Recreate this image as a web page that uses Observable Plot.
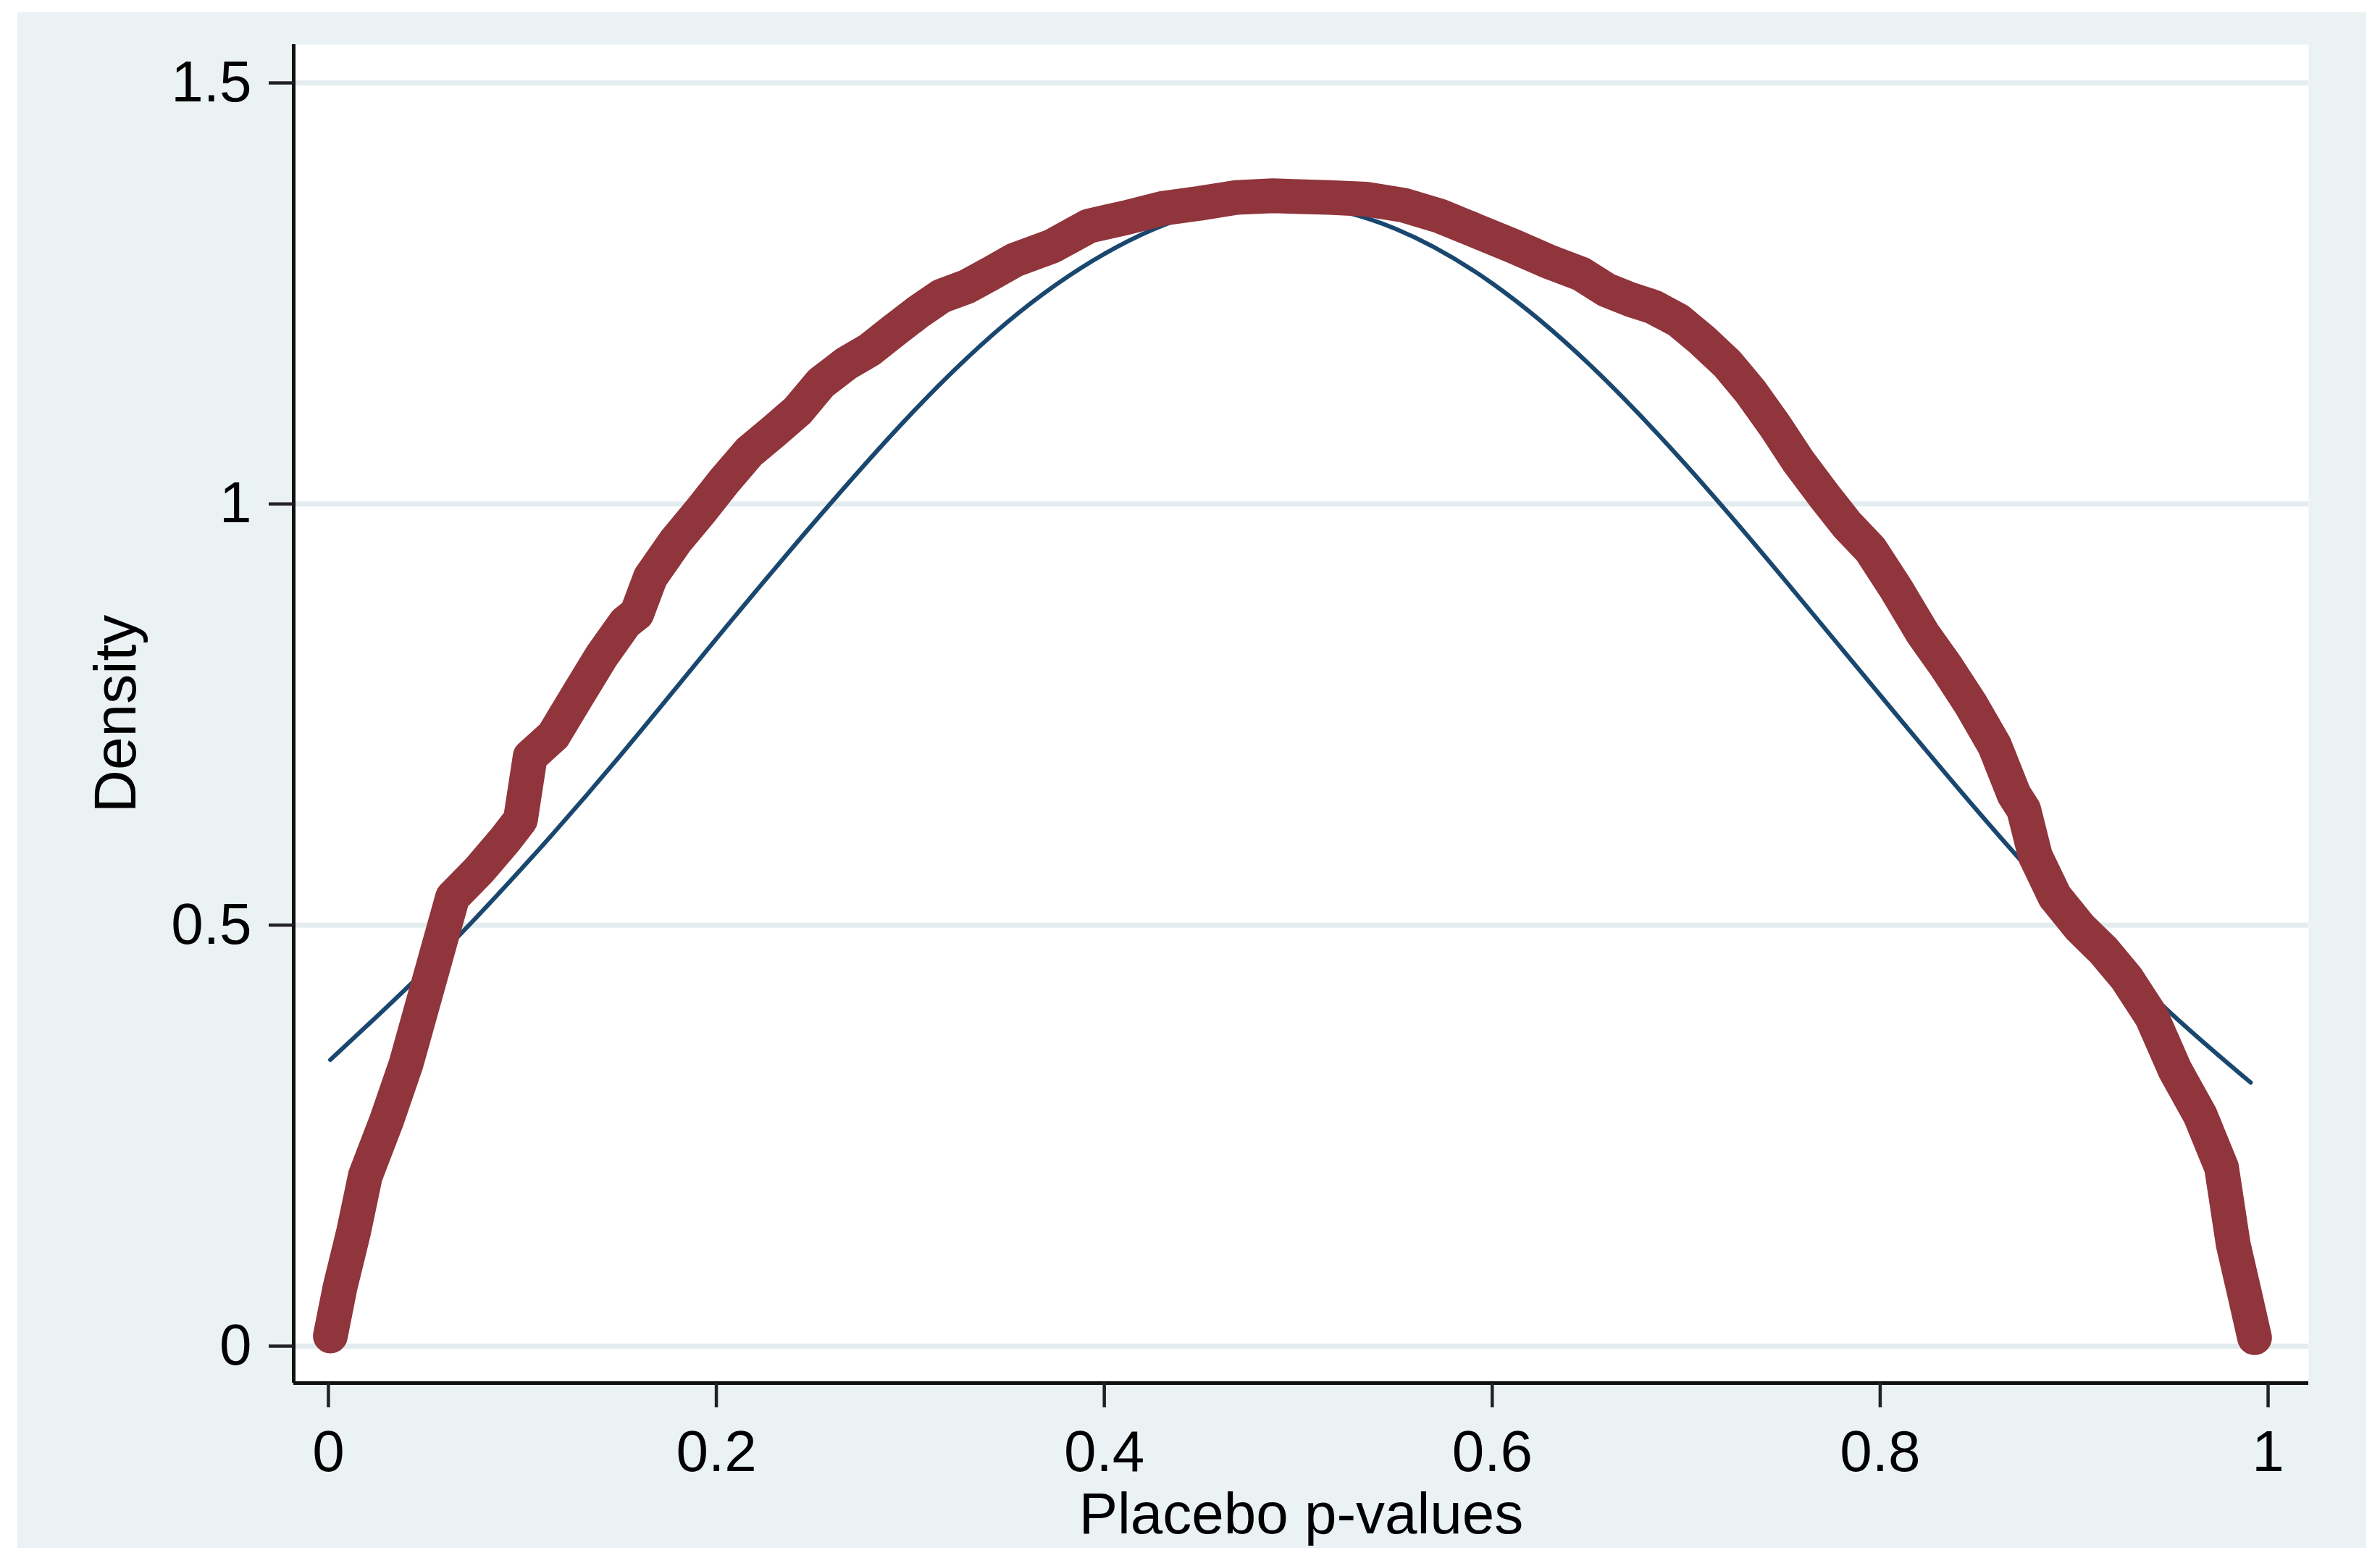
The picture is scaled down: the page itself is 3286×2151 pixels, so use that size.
<!DOCTYPE html>
<html>
<head>
<meta charset="utf-8">
<script src="https://cdn.jsdelivr.net/npm/d3@7"></script>
<script src="https://cdn.jsdelivr.net/npm/@observablehq/plot@0.6"></script>
<style>
  html, body { margin: 0; padding: 0; background: #ffffff; }
  #chart { position: absolute; left: 24px; top: 17px; }
</style>
</head>
<body>
<div id="chart"></div>
<script>
// Placebo p-value density (thick red)
const redX = [0.001, 0.006, 0.013, 0.019, 0.030, 0.040, 0.048, 0.056, 0.064, 0.078,
  0.091, 0.099, 0.104, 0.116, 0.128, 0.141, 0.153, 0.159, 0.166, 0.179,
  0.192, 0.204, 0.217, 0.229, 0.242, 0.254, 0.267, 0.279, 0.291, 0.304,
  0.316, 0.329, 0.341, 0.354, 0.373, 0.392, 0.411, 0.430, 0.449, 0.468,
  0.487, 0.516, 0.535, 0.554, 0.573, 0.592, 0.611, 0.630, 0.646, 0.659,
  0.671, 0.683, 0.696, 0.708, 0.721, 0.733, 0.746, 0.758, 0.771, 0.783,
  0.795, 0.808, 0.822, 0.834, 0.847, 0.859, 0.869, 0.874, 0.880, 0.890,
  0.903, 0.915, 0.927, 0.940, 0.952, 0.965, 0.976, 0.982, 0.988, 0.993];
const redY = [0.012, 0.070, 0.136, 0.202, 0.268, 0.335, 0.401, 0.467, 0.533, 0.566,
  0.601, 0.625, 0.700, 0.725, 0.771, 0.820, 0.859, 0.870, 0.913, 0.956,
  0.992, 1.027, 1.062, 1.085, 1.111, 1.144, 1.167, 1.183, 1.205, 1.228,
  1.247, 1.258, 1.273, 1.290, 1.306, 1.330, 1.340, 1.351, 1.357, 1.364,
  1.366, 1.364, 1.362, 1.355, 1.342, 1.324, 1.306, 1.287, 1.273, 1.254,
  1.243, 1.234, 1.218, 1.195, 1.167, 1.134, 1.092, 1.050, 1.010, 0.975,
  0.946, 0.900, 0.846, 0.807, 0.761, 0.713, 0.655, 0.637, 0.582, 0.534,
  0.497, 0.470, 0.437, 0.391, 0.328, 0.274, 0.212, 0.121, 0.061, 0.010];

// Smooth reference curve (thin navy)
const blueX = [0.001, 0.05, 0.10, 0.15, 0.20, 0.25, 0.30, 0.35, 0.40, 0.45,
  0.50, 0.55, 0.60, 0.65, 0.70, 0.75, 0.80, 0.85, 0.90, 0.95, 0.991];
const blueY = [0.340, 0.447, 0.568, 0.700, 0.840, 0.977, 1.106, 1.216, 1.297, 1.346,
  1.356, 1.327, 1.262, 1.166, 1.046, 0.912, 0.773, 0.636, 0.508, 0.395, 0.313];

const xTicks = [0, 0.2, 0.4, 0.6, 0.8, 1];
const xTickLabels = ["0", "0.2", "0.4", "0.6", "0.8", "1"];
const yTicks = [0, 0.5, 1, 1.5];
const yTickLabels = ["0", "0.5", "1", "1.5"];
const xTitle = "Placebo p-values";
const yTitle = "Density";

const red = redX.map((x, i) => ({x, y: redY[i]}));
const blue = blueX.map((x, i) => ({x, y: blueY[i]}));
const xDomain = [-0.0179, 1.0209];
const yDomain = [-0.0439, 1.5456];

const fontFamily = "'Liberation Sans', Arial, Helvetica, sans-serif";

const chart = Plot.plot({
  width: 3243,
  height: 2120,
  marginLeft: 381,
  marginRight: 80,
  marginTop: 44,
  marginBottom: 228,
  style: {background: "#EAF2F3", fontFamily, fontSize: "80px", color: "#000", overflow: "visible"},
  x: {domain: xDomain},
  y: {domain: yDomain},
  marks: [
    Plot.frame({fill: "white", stroke: "none"}),
    Plot.ruleY(yTicks, {stroke: "#E3ECEE", strokeWidth: 7}),
    Plot.line(blue, {x: "x", y: "y", stroke: "#1A476F", strokeWidth: 6, curve: "natural"}),
    Plot.line(red, {x: "x", y: "y", stroke: "#90353B", strokeWidth: 48,
      strokeLinecap: "round", strokeLinejoin: "round", curve: "linear"}),
    Plot.ruleX([xDomain[0]], {stroke: "#111", strokeWidth: 5}),
    Plot.ruleY([yDomain[0]], {stroke: "#111", strokeWidth: 5}),
    Plot.axisY({ticks: yTicks, tickFormat: (d) => yTickLabels[yTicks.indexOf(d)],
      tickSize: 34, tickPadding: 24, strokeWidth: 4.5, stroke: "#222", label: null, fontSize: 80}),
    Plot.axisX({ticks: xTicks, tickFormat: (d) => xTickLabels[xTicks.indexOf(d)],
      tickSize: 34, tickPadding: 31, strokeWidth: 4.5, stroke: "#222", label: null, fontSize: 80}),
    Plot.text([yTitle], {frameAnchor: "left", dx: -277, rotate: -90, textAnchor: "middle",
      lineAnchor: "top", fontSize: 82, fill: "#000"}),
    Plot.text([xTitle], {frameAnchor: "bottom", dy: 207, textAnchor: "middle",
      lineAnchor: "bottom", fontSize: 80, fill: "#000"})
  ]
});
document.getElementById("chart").appendChild(chart);
</script>
</body>
</html>
